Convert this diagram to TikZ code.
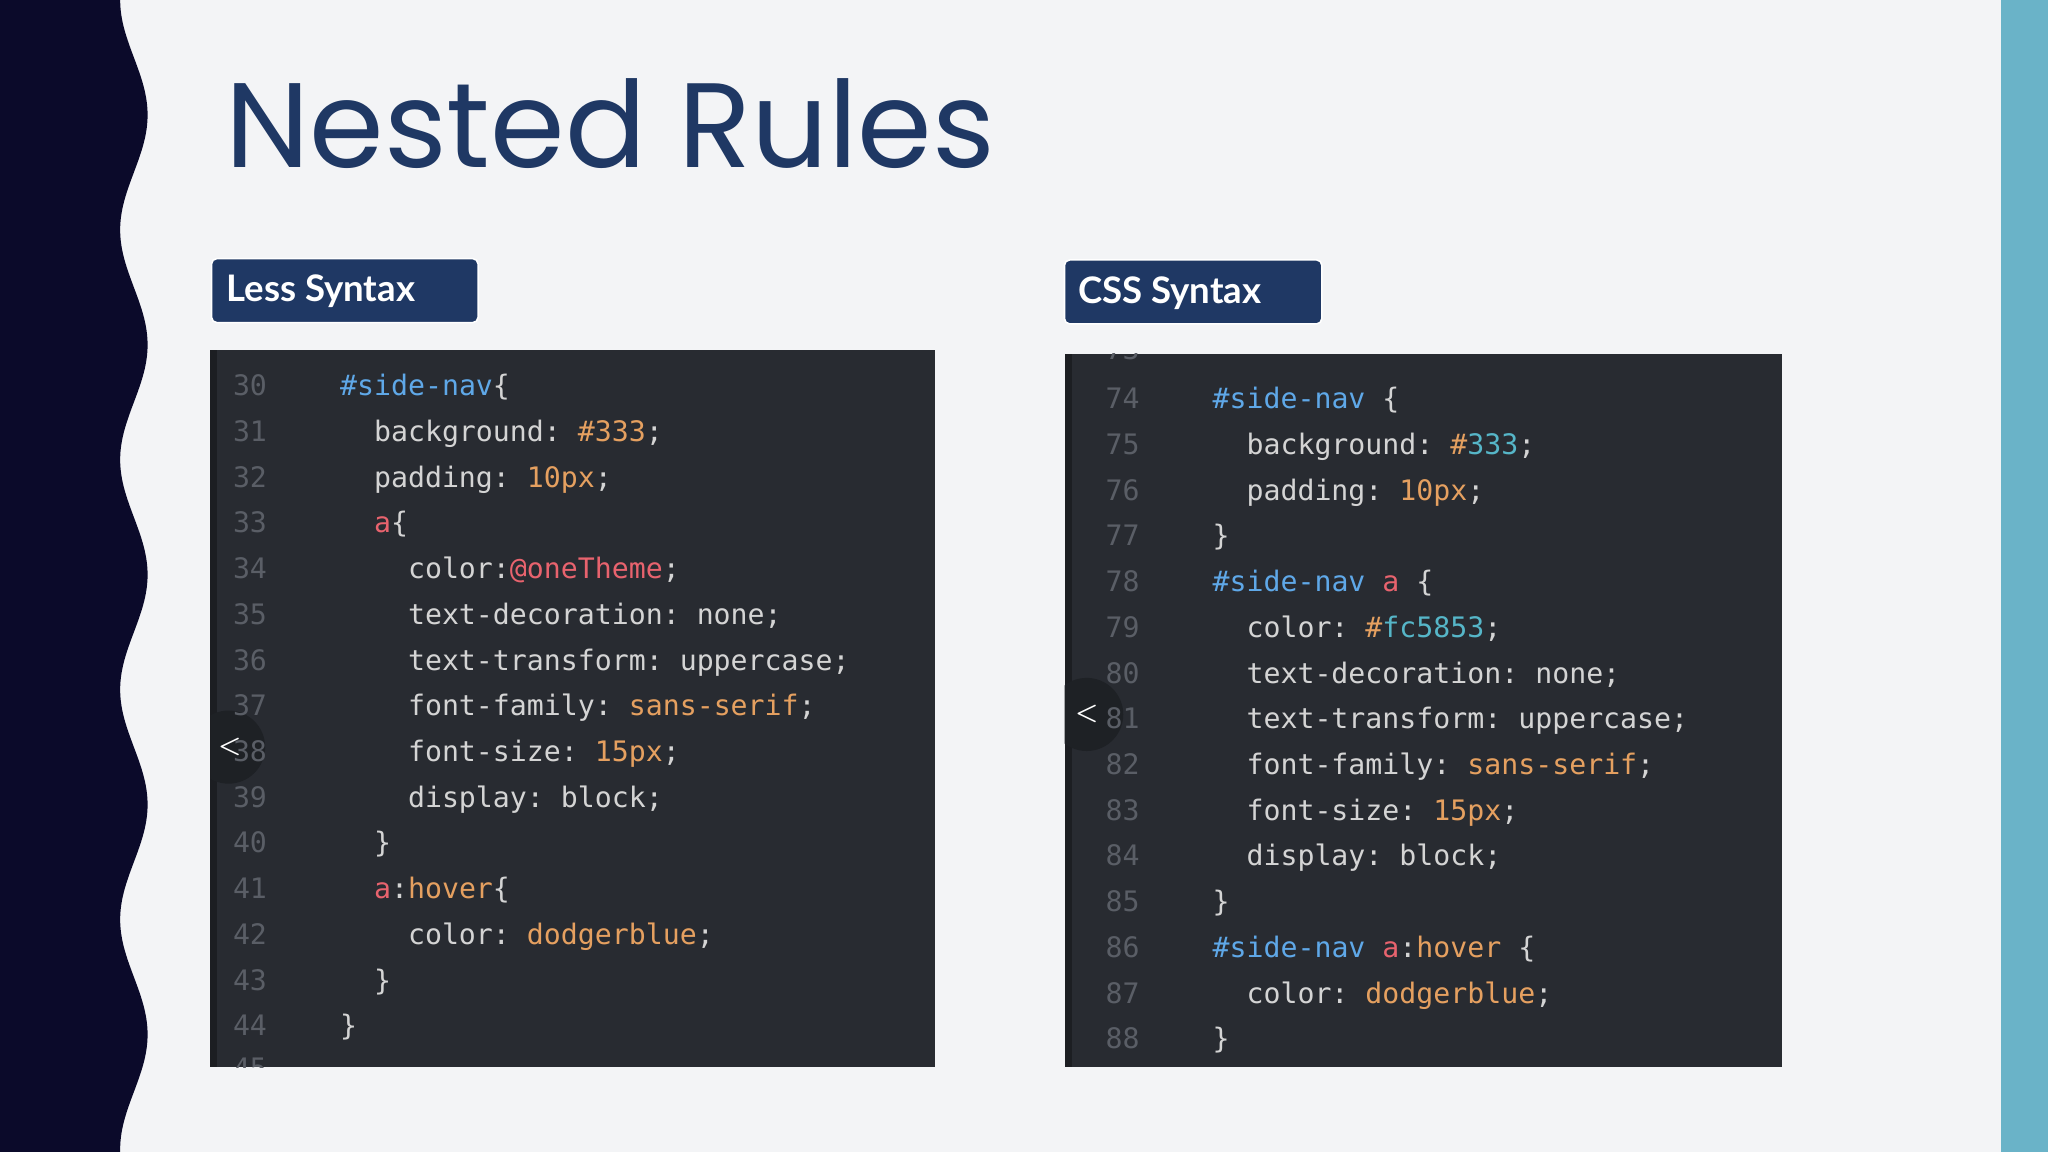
\documentclass[tikz,border=0pt]{standalone}
\usepackage{fontspec}
\setmainfont{Poppins}
\newfontfamily\labfont{Lato}
\setmonofont{DejaVu Sans Mono}
\definecolor{bg}{HTML}{F3F4F6}
\definecolor{navy}{HTML}{0B0A2A}
\definecolor{teal}{HTML}{6AB3C8}
\definecolor{titlec}{HTML}{1F3864}
\definecolor{panel}{HTML}{282B31}
\definecolor{strip}{HTML}{1C1E22}
\definecolor{lnum}{HTML}{5A5E66}
\definecolor{sel}{HTML}{5FA8E8}
\definecolor{prop}{HTML}{D4D4D4}
\definecolor{val}{HTML}{E5A060}
\definecolor{redc}{HTML}{E8636E}
\definecolor{cyan}{HTML}{56B6C8}
\tikzset{
 code/.style={anchor=base west,inner sep=0pt,font=\ttfamily\fontsize{10.8}{12}\selectfont,text=prop},
 ln/.style={anchor=base west,inner sep=0pt,font=\ttfamily\fontsize{10.8}{12}\selectfont,text=lnum}
}
\newcommand{\cS}[1]{\textcolor{sel}{#1}}
\newcommand{\cV}[1]{\textcolor{val}{#1}}
\newcommand{\cR}[1]{\textcolor{redc}{#1}}
\newcommand{\cC}[1]{\textcolor{cyan}{#1}}
\begin{document}
\begin{tikzpicture}[x=0.5pt,y=-0.5pt]
\fill[bg] (0,0) rectangle (1568,882);
\useasboundingbox (0,0) rectangle (1568,882);
\fill[navy] (0,0) -- plot[domain=0:882,samples=200,smooth] ({102.5+10.5*cos(2.04545*(\x-88))},\x) -- (0,882) -- cycle;
\fill[teal] (1532,0) rectangle (1568,882);
\node[anchor=base west,inner sep=0pt,text=titlec,font=\fontsize{46}{50}\selectfont] (title) at (172,128) {Nested Rules};
% labels
\draw[white,line width=0.6pt,fill=titlec,rounded corners=2pt] (162,198) rectangle (366,247);
\node[anchor=base west,inner sep=0pt,text=white,font=\labfont\bfseries\fontsize{14}{16}\selectfont] (l1) at (173,231) {Less Syntax};
\draw[white,line width=0.6pt,fill=titlec,rounded corners=2pt] (815,199) rectangle (1012,248);
\node[anchor=base west,inner sep=0pt,text=white,font=\labfont\bfseries\fontsize{14}{16}\selectfont] (l2) at (825,232) {CSS Syntax};
% panels
\fill[panel] (161,268) rectangle (716,817);
\fill[strip] (161,268) rectangle (166,817);
\fill[panel] (815,271) rectangle (1364,817);
\fill[strip] (815,271) rectangle (821,817);
\begin{scope}
\clip (161,268) rectangle (716,817);
\fill[strip!80!panel] (175,572) circle (28);
\node[text=white,font=\bfseries\sffamily\fontsize{10}{10}\selectfont,inner sep=0pt] (c1) at (176,572) {<};
\node[ln] at (178,826) {45};
\end{scope}
\begin{scope}
\clip (815,271) rectangle (1364,817);
\fill[strip!80!panel] (832,547) circle (28);
\node[text=white,font=\bfseries\sffamily\fontsize{10}{10}\selectfont,inner sep=0pt] (c2) at (832,547) {<};
\node[ln] at (846,275) {73};
\end{scope}
% left code
\foreach \n [count=\i from 0] in {30,...,44} {\node[ln] at (178,303+35*\i) {\n};}
\node[code] at (260,303) {\cS{\#side-nav}\{};
\node[code] at (286,338) {background: \cV{\#333};};
\node[code] at (286,373) {padding: \cV{10px};};
\node[code] at (286,408) {\cR{a}\{};
\node[code] at (312,443) {color:\cR{@oneTheme};};
\node[code] at (312,478) {text-decoration: none;};
\node[code] at (312,513) {text-transform: uppercase;};
\node[code] at (312,548) {font-family: \cV{sans-serif};};
\node[code] at (312,583) {font-size: \cV{15px};};
\node[code] at (312,618) {display: block;};
\node[code] at (286,653) {\}};
\node[code] at (286,688) {\cR{a}:\cV{hover}\{};
\node[code] at (312,723) {color: \cV{dodgerblue};};
\node[code] at (286,758) {\}};
\node[code] at (260,793) {\}};
% right code
\foreach \n [count=\i from 0] in {74,...,88} {\node[ln] at (846,313+35*\i) {\n};}
\node[code] at (928,313) {\cS{\#side-nav} \{};
\node[code] at (954,348) {background: \cV{\#}\cC{333};};
\node[code] at (954,383) {padding: \cV{10px};};
\node[code] at (928,418) {\}};
\node[code] at (928,453) {\cS{\#side-nav} \cR{a} \{};
\node[code] at (954,488) {color: \cV{\#}\cC{fc5853};};
\node[code] at (954,523) {text-decoration: none;};
\node[code] at (954,558) {text-transform: uppercase;};
\node[code] at (954,593) {font-family: \cV{sans-serif};};
\node[code] at (954,628) {font-size: \cV{15px};};
\node[code] at (954,663) {display: block;};
\node[code] at (928,698) {\}};
\node[code] at (928,733) {\cS{\#side-nav} \cR{a}:\cV{hover} \{};
\node[code] at (954,768) {color: \cV{dodgerblue};};
\node[code] at (928,803) {\}};
\end{tikzpicture}
\end{document}
